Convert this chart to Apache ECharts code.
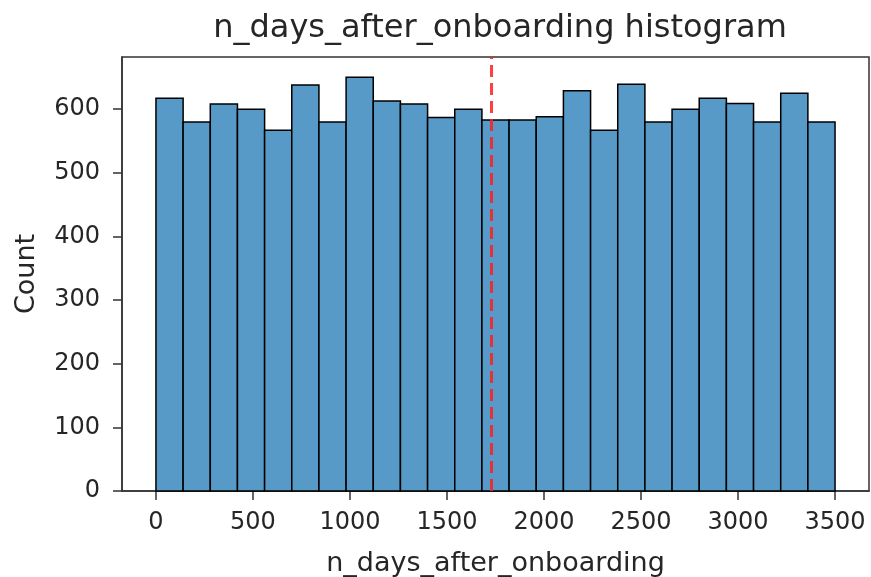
<!DOCTYPE html>
<html>
<head>
<meta charset="utf-8">
<script src="https://cdn.jsdelivr.net/npm/echarts@6/dist/echarts.min.js"></script>
<style>html,body{margin:0;padding:0;background:#fff}#c{width:871px;height:577px}</style>
</head>
<body>
<div id="c"></div>
<script>
// Histogram bin edges (26 edges -> 25 bins)
const binEdges = [0,140,280,420,560,700,840,980,1120,1260,1400,1540,1680,1820,1960,2100,2240,2380,2520,2660,2800,2940,3080,3220,3360,3500];
// Counts per bin
const counts = [617,580,608,600,567,638,580,650,613,608,587,600,583,583,588,629,567,639,580,600,617,609,580,625,580];
// Mean marker
const meanValue = 1730;
// Tick labels
const xTicks = [0,500,1000,1500,2000,2500,3000,3500];
const yTicks = [0,100,200,300,400,500,600];

const FONT = 'DejaVu Sans';
const TXT = '#262626';

const barData = counts.map((c, i) => [binEdges[i], binEdges[i+1], c]);

const chart = echarts.init(document.getElementById('c'), null, {renderer: 'canvas'});
chart.setOption({
  animation: false,
  backgroundColor: '#fff',
  title: {
    text: 'n_days_after_onboarding histogram',
    left: 495, top: 8, textAlign: 'center',
    textStyle: {fontFamily: FONT, fontSize: 32, fontWeight: 'normal', color: TXT}
  },
  grid: {left: 122, right: 2, top: 57, bottom: 86, outerBoundsMode: 'none', containLabel: false,
    show: true, borderColor: '#333', borderWidth: 1.5, backgroundColor: 'transparent'},
  xAxis: {
    type: 'value', min: -175, max: 3675,
    name: 'n_days_after_onboarding', nameLocation: 'middle', nameGap: 59,
    nameTextStyle: {fontFamily: FONT, fontSize: 27, color: TXT},
    axisLine: {show: true, onZero: false, lineStyle: {color: '#333', width: 1.5}},
    axisTick: {show: true, length: 9, customValues: xTicks, lineStyle: {color: '#333', width: 1.5}},
    axisLabel: {customValues: xTicks, margin: 20, fontFamily: FONT, fontSize: 24, color: TXT,
      formatter: function (v) { return String(v); }},
    splitLine: {show: false}
  },
  yAxis: {
    type: 'value', min: 0, max: 682,
    name: 'Count', nameLocation: 'middle', nameGap: 82, nameRotate: 90,
    nameTextStyle: {fontFamily: FONT, fontSize: 27, color: TXT},
    axisLine: {show: true, onZero: false, lineStyle: {color: '#333', width: 1.5}},
    axisTick: {show: true, length: 9, customValues: yTicks, lineStyle: {color: '#333', width: 1.5}},
    axisLabel: {customValues: yTicks, margin: 22, fontFamily: FONT, fontSize: 24, color: TXT,
      formatter: function (v) { return String(v); }},
    splitLine: {show: false}
  },
  series: [{
    type: 'custom',
    data: barData,
    encode: {x: [0, 1], y: 2},
    renderItem: function (params, api) {
      const p0 = api.coord([api.value(0), api.value(2)]);
      const p1 = api.coord([api.value(1), 0]);
      return {
        type: 'rect',
        shape: {x: p0[0], y: p0[1], width: p1[0] - p0[0], height: p1[1] - p0[1]},
        style: {fill: '#5799c7', stroke: '#000', lineWidth: 1.5}
      };
    },
    markLine: {
      silent: true, symbol: 'none', label: {show: false},
      lineStyle: {color: 'rgba(255,30,30,0.85)', width: 3, type: [12, 6]},
      data: [{xAxis: meanValue}]
    },
    z: 2
  }]
});
</script>
</body>
</html>
